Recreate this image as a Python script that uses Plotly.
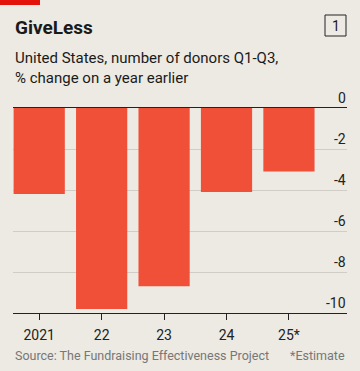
import plotly.graph_objects as go

categories = ["2021", "22", "23", "24", "25*"]
values = [-4.2, -9.8, -8.7, -4.1, -3.1]
y_ticks = [0, -2, -4, -6, -8, -10]
y_tick_labels = ["0", "-2", "-4", "-6", "-8", "-10"]

BG = "#ECEAE2"
BAR = "#F04F38"
FONT = "Roboto"
PH = 205  # plot height in px
PW = 334

fig = go.Figure(go.Bar(
    x=list(range(len(categories))), y=values,
    marker=dict(color=BAR, line=dict(width=0)),
    width=0.82,
))

annotations = [
    dict(text="<b>GiveLess</b>", xref="paper", yref="paper",
         x=0, y=1 + 81/PH, xanchor="left", yanchor="middle",
         showarrow=False, font=dict(size=19, color="#1a1a1a", family=FONT)),
    dict(text="1", xref="paper", yref="paper",
         x=1 - 11.5/PW, y=1 + 82.5/PH, xanchor="center", yanchor="middle",
         showarrow=False, font=dict(size=14, color="#1a1a1a", family=FONT)),
    dict(text="United States, number of donors Q1-Q3,<br>% change on a year earlier",
         xref="paper", yref="paper", x=0, y=1 + 40/PH,
         xanchor="left", yanchor="middle", align="left",
         showarrow=False, font=dict(size=15, color="#1a1a1a", family=FONT)),
    dict(text="Source: The Fundraising Effectiveness Project", xref="paper", yref="paper",
         x=0, y=-42/PH, xanchor="left", yanchor="middle",
         showarrow=False, font=dict(size=12.5, color="#777", family=FONT)),
    dict(text="*Estimate", xref="paper", yref="paper",
         x=1, y=-42/PH, xanchor="right", yanchor="middle",
         showarrow=False, font=dict(size=12.5, color="#777", family=FONT)),
]
for v, t in zip(y_ticks, y_tick_labels):
    annotations.append(dict(
        text=t, xref="paper", yref="y", x=1, y=v,
        xanchor="right", yanchor="bottom", yshift=0, xshift=1,
        showarrow=False, font=dict(size=14, color="#222", family=FONT)))

fig.update_layout(
    width=360, height=371,
    margin=dict(l=13, r=13, t=108, b=58),
    paper_bgcolor=BG, plot_bgcolor=BG,
    showlegend=False,
    font=dict(family=FONT, color="#222"),
    xaxis=dict(
        range=[-0.42, 4.93],
        tickmode="array", tickvals=list(range(len(categories))), ticktext=categories,
        ticks="outside", ticklen=6, tickcolor="#222", tickwidth=1,
        ticklabelstandoff=3,
        showline=True, linecolor="#222", linewidth=1, mirror=True,
        showgrid=False, zeroline=False,
        tickfont=dict(size=14, color="#222"),
        fixedrange=True,
    ),
    yaxis=dict(
        range=[-10, 0], side="right",
        tickmode="array", tickvals=y_ticks, showticklabels=False,
        showgrid=True, gridcolor="#CFCDC5", gridwidth=1,
        zeroline=False, showline=False, ticks="",
        fixedrange=True,
    ),
    shapes=[
        dict(type="rect", xref="paper", yref="paper",
             x0=-13/PW, x1=27/PW, y0=1 + 103/PH, y1=1 + 108/PH,
             fillcolor="#E3120B", line=dict(width=0)),
        dict(type="rect", xref="paper", yref="paper",
             x0=1 - 22/PW, x1=1 - 1/PW, y0=1 + 72/PH, y1=1 + 93/PH,
             fillcolor="rgba(0,0,0,0)", line=dict(color="#222", width=1)),
    ],
    annotations=annotations,
)

fig.write_html("out.html", config={"displayModeBar": False},
               post_script="document.body.style.margin='0';document.body.style.overflow='hidden';")
